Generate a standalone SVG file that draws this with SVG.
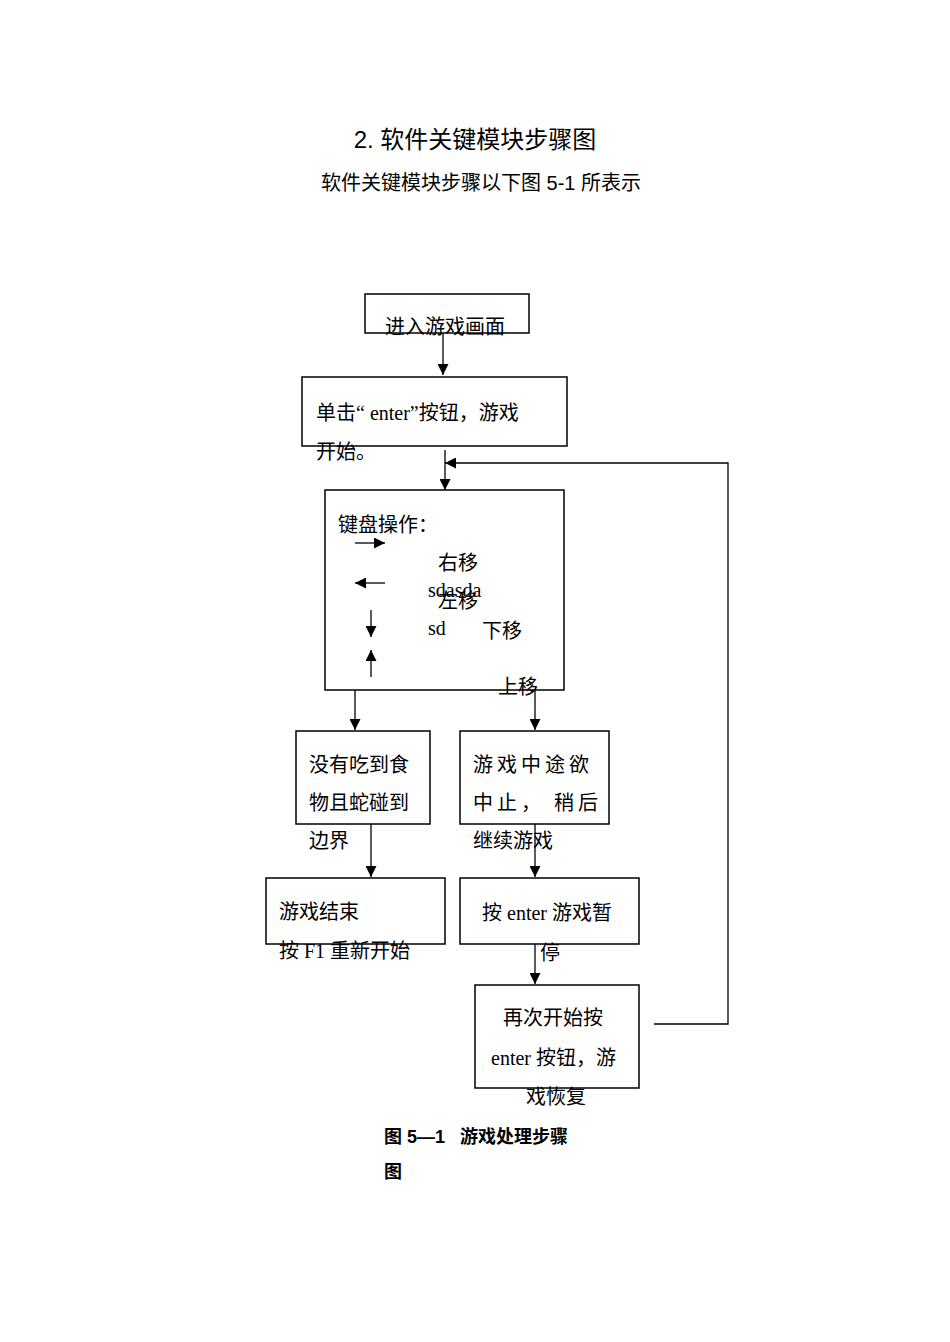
<svg xmlns="http://www.w3.org/2000/svg" width="950" height="1342" viewBox="0 0 950 1342">
<style>
.b{fill:none;stroke:#000;stroke-width:1.5}
.l{stroke:#000;stroke-width:1.3;fill:none}
.t{font-family:"Liberation Serif","Noto Sans CJK SC",serif;font-size:20px;fill:#000}
.h{font-family:"Liberation Sans","Noto Sans CJK SC",sans-serif;fill:#000}
</style>
<defs><marker id="a" viewBox="0 0 10 10" refX="10" refY="5" markerWidth="11" markerHeight="11" markerUnits="userSpaceOnUse" orient="auto"><path d="M0,0L10,5L0,10z" fill="#000"/></marker>
<marker id="s" viewBox="0 0 10 10" refX="10" refY="5" markerWidth="11" markerHeight="11" markerUnits="userSpaceOnUse" orient="auto"><path d="M0,0L10,5L0,10z" fill="#000"/></marker></defs>
<text class="h" x="475" y="148" font-size="24" text-anchor="middle">2. 软件关键模块步骤图</text>
<text class="h" x="481" y="190" font-size="20" text-anchor="middle">软件关键模块步骤以下图 5-1 所表示</text>
<g id="connectors">
<line class="l" x1="443" y1="333" x2="443" y2="375" marker-end="url(#s)"/>
<line class="l" x1="445" y1="450" x2="445" y2="490" marker-end="url(#s)"/>
<polyline class="l" points="654,1024 728,1024 728,463 445,463" marker-end="url(#s)"/>
<line class="l" x1="355" y1="690" x2="355" y2="730" marker-end="url(#s)"/>
<line class="l" x1="535" y1="690" x2="535" y2="730" marker-end="url(#s)"/>
<line class="l" x1="371" y1="824" x2="371" y2="877" marker-end="url(#s)"/>
<line class="l" x1="535" y1="824" x2="535" y2="877" marker-end="url(#s)"/>
<line class="l" x1="535" y1="944" x2="535" y2="984" marker-end="url(#s)"/>
</g>
<g id="n1"><rect class="b" x="365" y="294" width="164" height="39"/><text class="t" x="385" y="334">进入游戏画面</text></g>
<g id="n2"><rect class="b" x="302" y="377" width="265" height="69"/><text class="t" x="316" y="420">单击“ enter”按钮，游戏</text><text class="t" x="316" y="459">开始。</text></g>
<g id="n3"><rect class="b" x="325" y="490" width="239" height="200"/>
<text class="t" x="338" y="532">键盘操作：</text>
<line class="l" x1="355" y1="543" x2="385" y2="543" marker-end="url(#a)"/>
<line class="l" x1="385" y1="583" x2="355" y2="583" marker-end="url(#a)"/>
<line class="l" x1="371" y1="610" x2="371" y2="637" marker-end="url(#a)"/>
<line class="l" x1="371" y1="677" x2="371" y2="650" marker-end="url(#a)"/>
<text class="t" x="438" y="570">右移</text><text class="t" x="438" y="608">左移</text>
<text class="t" x="428" y="597">sdasda</text><text class="t" x="428" y="635">sd</text>
<text class="t" x="482" y="638">下移</text><text class="t" x="498" y="694">上移</text></g>
<g id="n4"><rect class="b" x="296" y="731" width="134" height="93"/><text class="t" x="309" y="772">没有吃到食</text><text class="t" x="309" y="810">物且蛇碰到</text><text class="t" x="309" y="848">边界</text></g>
<g id="n5"><rect class="b" x="460" y="731" width="149" height="93"/><text class="t" x="473" y="772" letter-spacing="4">游戏中途欲</text><text class="t" x="473" y="810" letter-spacing="4">中止， 稍后</text><text class="t" x="473" y="848">继续游戏</text></g>
<g id="n6"><rect class="b" x="266" y="878" width="179" height="66"/><text class="t" x="279" y="919">游戏结束</text><text class="t" x="279" y="958">按 F1 重新开始</text></g>
<g id="n7"><rect class="b" x="460" y="878" width="179" height="66"/><text class="t" x="482" y="920">按 enter 游戏暂</text><text class="t" x="540" y="960">停</text></g>
<g id="n8"><rect class="b" x="475" y="985" width="164" height="103"/><text class="t" x="503" y="1025">再次开始按</text><text class="t" x="491" y="1065">enter 按钮，游</text><text class="t" x="526" y="1104">戏恢复</text></g>
<text class="h" x="384" y="1143" font-size="18" font-weight="bold" xml:space="preserve">图 5—1   游戏处理步骤</text>
<text class="h" x="384" y="1178" font-size="18" font-weight="bold">图</text>
</svg>
